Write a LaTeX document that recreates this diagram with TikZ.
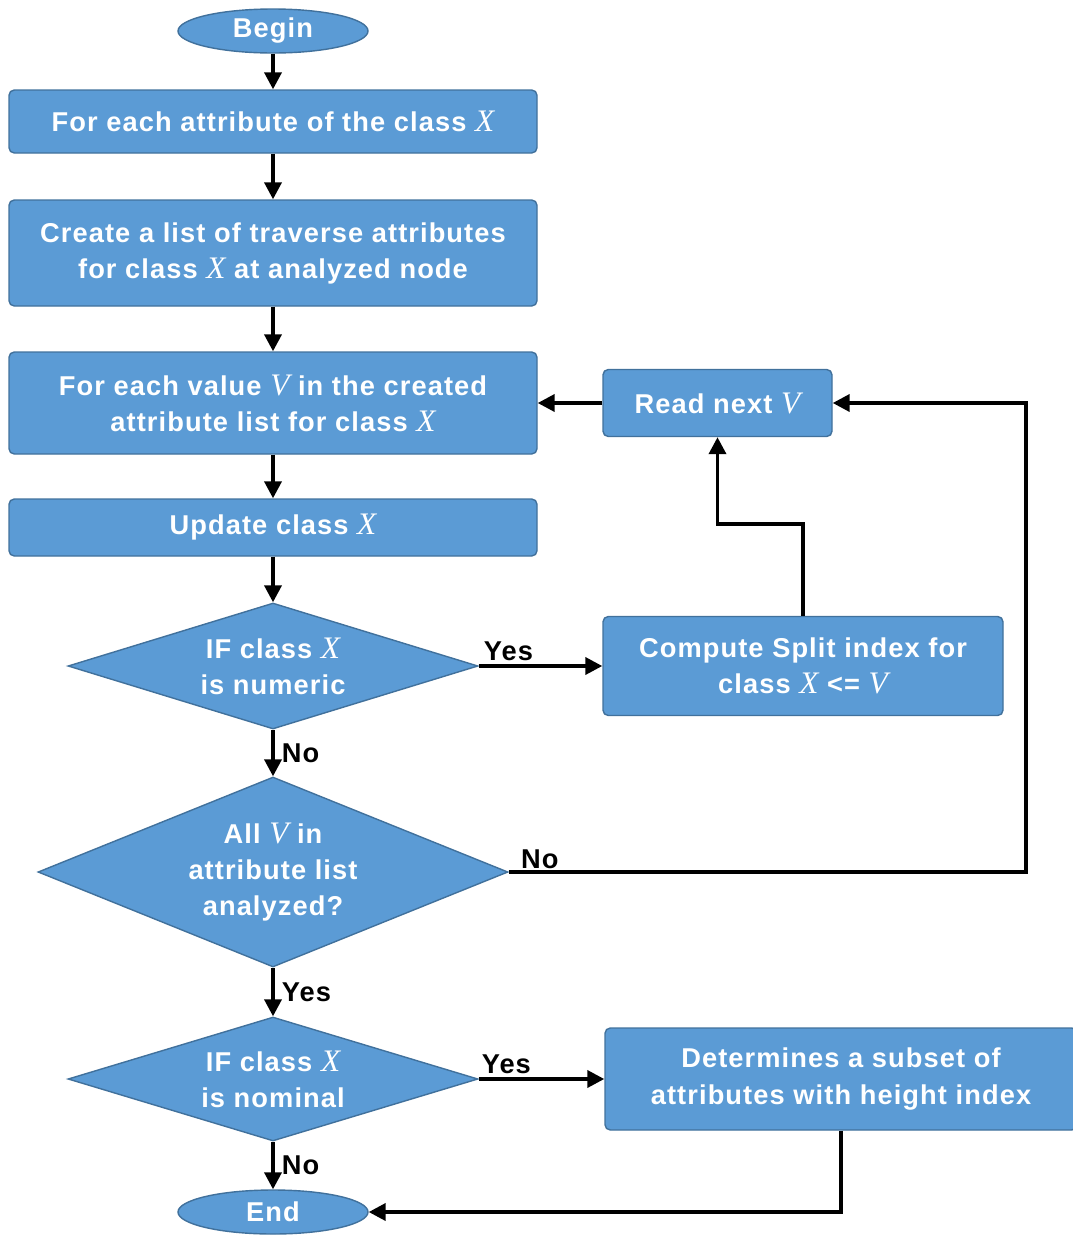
\documentclass[tikz,border=0pt]{standalone}
\usepackage{fontspec}
\setmainfont{Liberation Sans}[LetterSpace=4]
\newfontfamily\serifit{Liberation Serif}[Scale=1.15]
\usetikzlibrary{shapes.geometric, arrows.meta, positioning}

\definecolor{boxblue}{RGB}{91,155,213}
\definecolor{boxline}{RGB}{65,113,156}
\newcommand{\vr}[1]{{\serifit\mdseries\itshape #1}}

\tikzset{
  proc/.style={draw=boxline, fill=boxblue, line width=0.8pt, rounded corners=3pt,
    text=white, font=\fontsize{15.5}{20.5}\selectfont\bfseries, align=center,
    minimum width=10.56cm, inner sep=0pt},
  term/.style={draw=boxline, fill=boxblue, line width=0.8pt, ellipse,
    text=white, font=\fontsize{15.5}{20.5}\selectfont\bfseries,
    minimum width=3.8cm, minimum height=0.88cm, inner sep=0pt},
  cond/.style={draw=boxline, fill=boxblue, line width=0.8pt, diamond,
    text=white, font=\fontsize{15.5}{20.5}\selectfont\bfseries, align=center, inner sep=0pt},
  arr/.style={line width=2.1pt, -{Triangle[length=0.34cm,width=0.34cm]}},
  lbl/.style={font=\fontsize{15.5}{17}\selectfont\bfseries, text=black, inner sep=4pt}
}

\begin{document}
\begin{tikzpicture}

    \useasboundingbox (0,0) rectangle (21.46,-24.70);

    \node [term] (begin) at (5.46 , -0.62) {Begin};
    \node [proc, minimum height=1.26cm] (attr) at (5.46 , -2.43) {For each attribute of the class \vr{X}};
    \node [proc, minimum height=2.12cm] (trav) at (5.46 , -5.06) {Create a list of traverse attributes\\for class \vr{X} at analyzed node};
    \node [proc, minimum height=2.04cm] (value) at (5.46 , -8.06) {For each value \vr{V} in the created\\attribute list for class \vr{X}};
    \node [proc, minimum width=4.58cm, minimum height=1.34cm] (readv) at (14.35 , -8.06) {Read next \vr{V}};
    \node [proc, minimum height=1.14cm] (update) at (5.46 , -10.55) {Update class \vr{X}};
    \node [cond, aspect=3.25, minimum width=8.2cm, minimum height=2.52cm] (numeric) at (5.46 , -13.32) {IF class \vr{X}\\is numeric};
    \node [proc, minimum width=8.0cm, minimum height=1.98cm] (split) at (16.06 , -13.32) {Compute Split index for\\class \vr{X} <= \vr{V}};
    \node [cond, aspect=2.47, minimum width=9.4cm, minimum height=3.8cm] (analyzed) at (5.46 , -17.44) {All \vr{V} in\\attribute list\\analyzed?};
    \node [cond, aspect=3.3, minimum width=8.2cm, minimum height=2.48cm] (nominal) at (5.46 , -21.58) {IF class \vr{X}\\is nominal};
    \node [proc, minimum width=9.44cm, minimum height=2.04cm] (subset) at (16.82 , -21.58) {Determines a subset of\\attributes with height index};
    \node [term] (stop) at (5.46 , -24.24) {End};

    \coordinate (bend) at (16.06 , -10.48);
    \coordinate (loop) at (20.52 , -17.44);

 \path[arr]
      (begin) edge (attr)
      (attr) edge (trav)
      (trav) edge (value)
      (value) edge (update)
      (update) edge (numeric)
      (numeric) edge node [lbl, right] {No} (analyzed)
      (analyzed) edge node [lbl, right] {Yes} (nominal)
      (nominal) edge node [lbl, right] {No} (stop)
      (numeric.east) edge node [lbl, above, pos=0.24, inner sep=2pt] {Yes} (split.west)
      (nominal.east) edge node [lbl, above, pos=0.22, inner sep=2pt] {Yes} (subset.west)
      (readv.west) edge (value.east);
 \draw[arr] (split.north) -- (bend) -| (readv.south);
 \draw[arr] (analyzed.east) -- node [lbl, above, pos=0.06, inner sep=1pt] {No} (loop) |- (readv.east);
 \draw[arr] (subset.south) |- (stop.east);
\end{tikzpicture}
\end{document}
